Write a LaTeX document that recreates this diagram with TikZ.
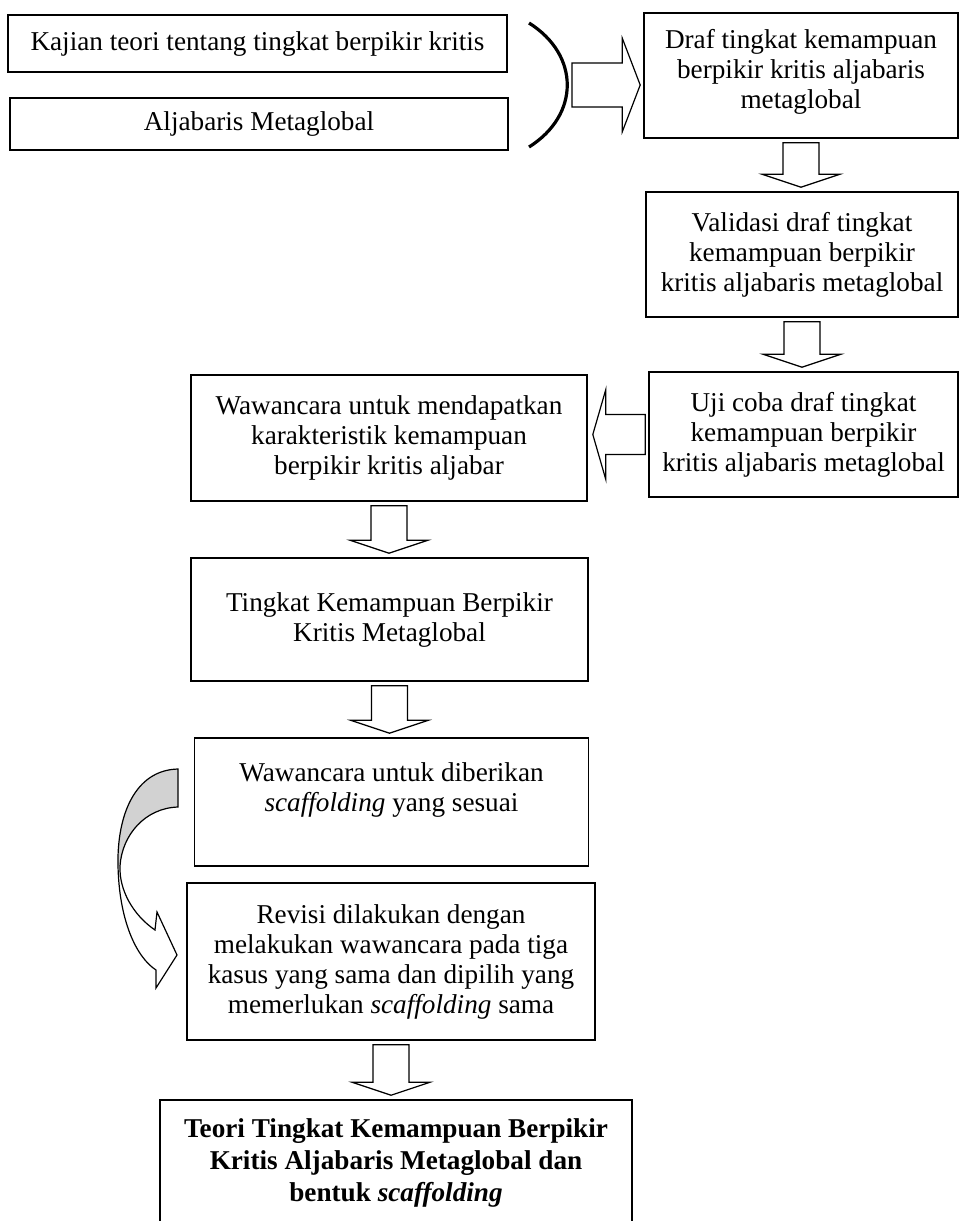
\documentclass[tikz,border=0pt]{standalone}
\usepackage{fontspec}
\setmainfont{Liberation Serif}
\usetikzlibrary{calc}
\tikzstyle{stage}=[rectangle, draw=black, line width=0.8pt, align=center, inner sep=2pt, font=\fontsize{13.6}{15}\selectfont]
\tikzstyle{blockarrow}=[draw=black, fill=white, line width=0.6pt, line join=miter]

% block arrow pointing down, from the bottom of #1 to the top of #2
\newcommand{\downblock}[2]{%
  \draw[blockarrow] let \p1=(#1.south), \p2=(#2.north) in
    (\x1-9pt,\y1-2pt) -- (\x1+9pt,\y1-2pt) -- (\x1+9pt,\y2+8.5pt) -- (\x1+19.5pt,\y2+8.5pt)
    -- (\x1,\y2+2pt) -- (\x1-19.5pt,\y2+8.5pt) -- (\x1-9pt,\y2+8.5pt) -- cycle;}
% block arrow pointing left, from the west side of #1 to the east side of #2
\newcommand{\leftblock}[2]{%
  \draw[blockarrow] let \p1=(#1.west), \p2=(#2.east) in
    (\x1-1.5pt,\y1+10pt) -- (\x2+9pt,\y1+10pt) -- (\x2+9pt,\y1+22.5pt) -- (\x2+2.5pt,\y1)
    -- (\x2+9pt,\y1-22.5pt) -- (\x2+9pt,\y1-10pt) -- (\x1-1.5pt,\y1-10pt) -- cycle;}
% block arrow pointing right, from coordinate #1 to the west side of #2
\newcommand{\rightblock}[2]{%
  \draw[blockarrow] let \p1=(#1), \p2=(#2.west) in
    (\x1+2.5pt,\y1+11pt) -- (\x2-10.5pt,\y1+11pt) -- (\x2-10.5pt,\y1+23.5pt) -- (\x2-1.5pt,\y1)
    -- (\x2-10.5pt,\y1-23.5pt) -- (\x2-10.5pt,\y1-11pt) -- (\x1+2.5pt,\y1-11pt) -- cycle;}

\begin{document}
\begin{tikzpicture}[x=0.5pt, y=0.5pt]
\useasboundingbox (0,0) rectangle (960,-1221);

% Sources
\node[stage, minimum width=249.5pt, minimum height=28.5pt] (kajian) at (257.5,-43.5) {Kajian teori tentang tingkat berpikir kritis};
\node[stage, minimum width=249pt, minimum height=26pt] (aljabar) at (259,-124) {Aljabaris Metaglobal};
\draw[line width=1.6pt] (529,-23) .. controls (580,-55) and (580,-115) .. (529,-147);
\coordinate (brace) at (567,-85);

% Draft, validation and trial
\node[stage, minimum width=157pt, minimum height=62.5pt, text depth=7pt] (draf) at (801,-75.5) {Draf tingkat kemampuan\\ berpikir kritis aljabaris\\ metaglobal};
\node[stage, minimum width=156pt, minimum height=62.5pt] (valid) at (802,-254.5) {Validasi draf tingkat\\ kemampuan berpikir\\ kritis aljabaris metaglobal};
\node[stage, minimum width=154.5pt, minimum height=62.5pt] (uji) at (803.5,-434.5) {Uji coba draf tingkat\\ kemampuan berpikir\\ kritis aljabaris metaglobal};

% Interviews
\node[stage, minimum width=198pt, minimum height=63pt] (wawan1) at (389,-438) {Wawancara untuk mendapatkan\\ karakteristik kemampuan\\ berpikir kritis aljabar};
\node[stage, minimum width=198.5pt, minimum height=61.5pt] (tingkat) at (389.5,-619.5) {Tingkat Kemampuan Berpikir\\ Kritis Metaglobal};
\node[stage, minimum width=197pt, minimum height=64pt, text depth=15pt] (wawan2) at (391.5,-802) {Wawancara untuk diberikan\\ \textit{scaffolding} yang sesuai};
\node[stage, minimum width=204pt, minimum height=78.5pt] (revisi) at (391,-961.5) {Revisi dilakukan dengan\\ melakukan wawancara pada tiga\\ kasus yang sama dan dipilih yang\\ memerlukan \textit{scaffolding} sama};

% Result
\node[stage, minimum width=236pt, minimum height=63pt, font=\fontsize{13.6}{16}\selectfont\bfseries] (teori) at (396,-1163) {Teori Tingkat Kemampuan Berpikir\\ Kritis Aljabaris Metaglobal dan\\ bentuk \textit{scaffolding}};

% Flow arrows
\rightblock{brace}{draf}
\downblock{draf}{valid}
\downblock{valid}{uji}
\leftblock{uji}{wawan1}
\downblock{wawan1}{tingkat}
\downblock{tingkat}{wawan2}
\downblock{revisi}{teori}

% Curved arrow from wawan2 to revisi
\fill[gray!35] (178,-769) .. controls (135,-770) and (117,-815) .. (118,-865) -- (120,-866)
  .. controls (122,-835) and (145,-808) .. (178,-807) -- cycle;
\draw[line width=0.6pt, line join=miter] (178,-769) .. controls (135,-770) and (117,-815) .. (118,-865)
  .. controls (119,-920) and (136,-957) .. (156,-970) -- (156,-988) -- (177,-955) -- (157,-912) -- (155,-930)
  .. controls (133,-915) and (119,-890) .. (120,-866) .. controls (122,-835) and (145,-808) .. (178,-807) -- cycle;

\end{tikzpicture}
\end{document}
